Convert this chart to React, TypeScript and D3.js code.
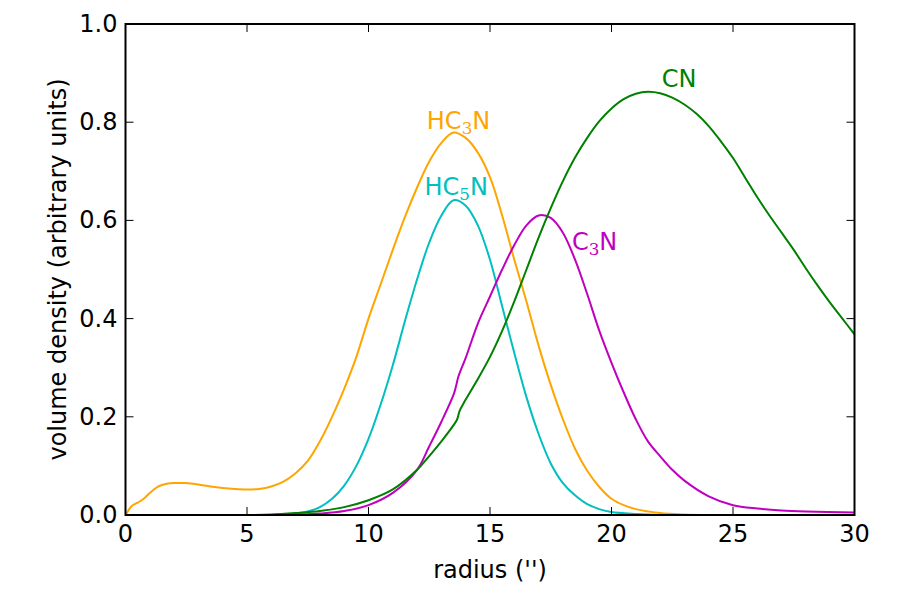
import React from "react";
import * as d3 from "d3";

// Radial volume density profiles of four molecules (arbitrary units)
const radiusHC3N = [0, 0.1, 0.25, 0.5, 0.75, 1, 1.25, 1.5, 1.75, 2, 2.5, 3, 3.5, 4, 4.5, 5, 5.5, 6, 6.5, 7, 7.5, 8, 8.5, 9, 9.5, 10, 10.5, 11, 11.5, 12, 12.5, 13, 13.5, 14, 14.5, 15, 15.5, 16, 16.5, 17, 17.5, 18, 18.5, 19, 19.5, 20, 20.5, 21, 22, 23, 24, 27, 30];
const densityHC3N = [0, 0.008, 0.018, 0.025, 0.033, 0.045, 0.055, 0.061, 0.064, 0.065, 0.065, 0.062, 0.058, 0.055, 0.053, 0.052, 0.053, 0.058, 0.068, 0.085, 0.11, 0.15, 0.2, 0.257, 0.322, 0.4, 0.47, 0.54, 0.607, 0.667, 0.72, 0.758, 0.779, 0.768, 0.738, 0.688, 0.61, 0.52, 0.435, 0.345, 0.265, 0.195, 0.135, 0.09, 0.057, 0.033, 0.02, 0.012, 0.004, 0.001, 0, 0, 0];

const radiusHC5N = [0, 3, 6, 6.5, 7, 7.5, 8, 8.5, 9, 9.5, 10, 10.5, 11, 11.5, 12, 12.5, 13, 13.5, 14, 14.5, 15, 15.5, 16, 16.5, 17, 17.5, 18, 18.5, 19, 19.5, 20, 21, 22, 26, 30];
const densityHC5N = [0, 0, 0, 0.001, 0.003, 0.007, 0.016, 0.033, 0.06, 0.1, 0.155, 0.225, 0.305, 0.395, 0.48, 0.555, 0.61, 0.641, 0.63, 0.59, 0.52, 0.425, 0.33, 0.24, 0.165, 0.105, 0.065, 0.04, 0.022, 0.012, 0.006, 0.002, 0, 0, 0];

const radiusC3N = [0, 3, 6, 7, 8, 9, 10, 11, 12, 12.5, 13, 13.5, 13.6, 13.7, 14, 14.5, 15, 15.5, 16, 16.5, 17, 17.5, 18, 18.5, 19, 19.5, 20, 20.5, 21, 21.5, 22, 22.5, 23, 24, 25, 26, 27, 28, 30];
const densityC3N = [0, 0, 0, 0.001, 0.003, 0.008, 0.02, 0.045, 0.092, 0.14, 0.19, 0.245, 0.262, 0.282, 0.32, 0.39, 0.445, 0.5, 0.55, 0.59, 0.61, 0.605, 0.575, 0.52, 0.45, 0.375, 0.31, 0.25, 0.195, 0.15, 0.12, 0.092, 0.07, 0.038, 0.02, 0.013, 0.009, 0.007, 0.005];

const radiusCN = [0, 3, 5, 6, 7, 8, 9, 10, 11, 12, 12.5, 13, 13.5, 13.65, 13.75, 14, 14.5, 15, 15.5, 16, 16.5, 17, 17.5, 18, 18.5, 19, 19.5, 20, 20.5, 21, 21.5, 22, 22.5, 23, 23.5, 24, 24.5, 25, 25.5, 26, 26.5, 27, 27.5, 28, 28.5, 29, 29.5, 30];
const densityCN = [0, 0, 0, 0.001, 0.004, 0.008, 0.016, 0.03, 0.052, 0.092, 0.12, 0.15, 0.183, 0.195, 0.212, 0.235, 0.277, 0.322, 0.375, 0.435, 0.5, 0.565, 0.625, 0.68, 0.728, 0.768, 0.802, 0.828, 0.847, 0.858, 0.862, 0.859, 0.85, 0.836, 0.817, 0.792, 0.761, 0.727, 0.687, 0.647, 0.61, 0.575, 0.54, 0.502, 0.466, 0.432, 0.4, 0.368];

const xTicks = [0, 5, 10, 15, 20, 25, 30];
const yTicks = [0, 0.2, 0.4, 0.6, 0.8, 1.0];

type Series = {
  name: string;
  sub: string | null;
  base: string;
  tail: string;
  color: string;
  xs: number[];
  ys: number[];
  lx: number; // label anchor in data units
  ly: number;
};

const series: Series[] = [
  { name: "HC3N", base: "HC", sub: "3", tail: "N", color: "#FFA500", xs: radiusHC3N, ys: densityHC3N, lx: 12.4, ly: 0.787 },
  { name: "HC5N", base: "HC", sub: "5", tail: "N", color: "#00BFBF", xs: radiusHC5N, ys: densityHC5N, lx: 12.3, ly: 0.652 },
  { name: "C3N", base: "C", sub: "3", tail: "N", color: "#BF00BF", xs: radiusC3N, ys: densityC3N, lx: 18.37, ly: 0.539 },
  { name: "CN", base: "CN", sub: null, tail: "", color: "#008000", xs: radiusCN, ys: densityCN, lx: 22.07, ly: 0.871 },
];

const W = 900;
const H = 600;
const left = 125.5;
const right = 854.5;
const top = 24;
const bottom = 515;
const FONT = "'DejaVu Sans', sans-serif";
const FS = 24;

export default function App() {
  const x = d3.scaleLinear().domain([0, 30]).range([left, right]);
  const y = d3.scaleLinear().domain([0, 1]).range([bottom, top]);
  const tickLen = 8;

  const line = (xs: number[], ys: number[]) =>
    d3
      .line<number>()
      .x((_, i) => x(xs[i]))
      .y((d) => y(d))
      .curve(d3.curveCatmullRom.alpha(0.5))(ys) || "";

  return (
    <svg
      width={W}
      height={H}
      style={{ position: "absolute", left: 0, top: 0, background: "#fff" }}
      fontFamily={FONT}
    >
      <defs>
        <clipPath id="plot-area">
          <rect x={left} y={top} width={right - left} height={bottom - top} />
        </clipPath>
      </defs>
      <rect x={0} y={0} width={W} height={H} fill="#fff" />

      <g clipPath="url(#plot-area)">
        {series.map((s) => (
          <path
            key={s.name}
            d={line(s.xs, s.ys)}
            fill="none"
            stroke={s.color}
            strokeWidth={2}
            strokeLinejoin="round"
          />
        ))}
      </g>

      {/* curve labels */}
      {series.map((s) => (
        <text
          key={s.name + "-label"}
          x={x(s.lx)}
          y={y(s.ly)}
          fill={s.color}
          fontSize={FS}
        >
          {s.base}
          {s.sub && (
            <tspan
              fontFamily="'DejaVu Serif', serif"
              fontSize={FS * 0.7}
              dy={5}
            >
              {s.sub}
            </tspan>
          )}
          {s.tail && <tspan dy={s.sub ? -5 : 0}>{s.tail}</tspan>}
        </text>
      ))}

      {/* ticks, pointing inward on all four sides */}
      {xTicks.map((t) => (
        <g key={"xt" + t} stroke="#000" strokeWidth={1}>
          <line x1={x(t)} x2={x(t)} y1={bottom} y2={bottom - tickLen} />
          <line x1={x(t)} x2={x(t)} y1={top} y2={top + tickLen} />
        </g>
      ))}
      {yTicks.map((t) => (
        <g key={"yt" + t} stroke="#000" strokeWidth={1}>
          <line x1={left} x2={left + tickLen} y1={y(t)} y2={y(t)} />
          <line x1={right} x2={right - tickLen} y1={y(t)} y2={y(t)} />
        </g>
      ))}

      <rect
        x={left}
        y={top}
        width={right - left}
        height={bottom - top}
        fill="none"
        stroke="#000"
        strokeWidth={2}
      />

      {xTicks.map((t) => (
        <text
          key={"xl" + t}
          x={x(t)}
          y={bottom + 27}
          textAnchor="middle"
          fontSize={FS}
        >
          {t}
        </text>
      ))}
      {yTicks.map((t) => (
        <text
          key={"yl" + t}
          x={left - 8}
          y={y(t) + 8}
          textAnchor="end"
          fontSize={FS}
        >
          {t.toFixed(1)}
        </text>
      ))}

      <text x={(left + right) / 2} y={578} textAnchor="middle" fontSize={FS}>
        radius ('')
      </text>
      <text
        transform={`translate(66, ${(top + bottom) / 2}) rotate(-90)`}
        textAnchor="middle"
        fontSize={FS}
      >
        volume density (arbitrary units)
      </text>
    </svg>
  );
}
